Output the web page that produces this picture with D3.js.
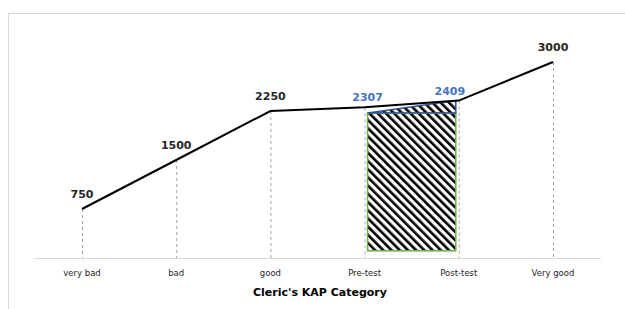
<!DOCTYPE html>
<meta charset="utf-8">
<script src="https://d3js.org/d3.v7.min.js"></script>
<style>
  body { margin: 0; background: #fff; }
</style>
<div id="chart"></div>
<script>

// categories and values
const categories = ["very bad", "bad", "good", "Pre-test", "Post-test", "Very good"];
const values = [750, 1500, 2250, 2307, 2409, 3000];
const blueLabels = ["Pre-test", "Post-test"];

// hatched improvement area
const areaFrom = "Pre-test", areaTo = "Post-test";
const boxBottom = 110, boxTop = 2220;
const wedgeTop = [2220, 2409];

const W = 625, H = 309;

const svg = d3.select("#chart").append("svg")
    .attr("width", W)
    .attr("height", H);

// outer chart frame
svg.append("rect")
    .attr("x", 8.5).attr("y", 13.5)
    .attr("width", 700).attr("height", 400)
    .attr("fill", "none")
    .attr("stroke", "#d9d9d9");

const x = d3.scalePoint()
    .domain(categories)
    .range([82, 553]);

const y = d3.scaleLinear()
    .domain([0, 3000])
    .range([258, 62]);

// hatch pattern
const defs = svg.append("defs");
defs.append("pattern")
    .attr("id", "hatch")
    .attr("patternUnits", "userSpaceOnUse")
    .attr("width", 5.8).attr("height", 5.8)
    .attr("patternTransform", "rotate(-45)")
  .append("rect")
    .attr("x", 0).attr("y", 0)
    .attr("width", 2.6).attr("height", 5.8)
    .attr("fill", "#000");

// drop lines
svg.append("g")
  .selectAll("line")
  .data(categories)
  .join("line")
    .attr("x1", d => x(d) + 0.5)
    .attr("x2", d => x(d) + 0.5)
    .attr("y1", (d, i) => y(values[i]))
    .attr("y2", y(0))
    .attr("stroke", "#a6a6a6")
    .attr("stroke-dasharray", "3,3");

// x axis line
svg.append("line")
    .attr("x1", 34).attr("x2", 601)
    .attr("y1", y(0) + 0.5).attr("y2", y(0) + 0.5)
    .attr("stroke", "#d9d9d9");

// hatched box
const bx0 = x(areaFrom) + 3, bx1 = x(areaTo) - 3;
svg.append("rect")
    .attr("x", bx0).attr("y", y(boxTop))
    .attr("width", bx1 - bx0)
    .attr("height", y(boxBottom) - y(boxTop))
    .attr("fill", "url(#hatch)")
    .attr("stroke", "#70ad47")
    .attr("stroke-width", 1.5);

// hatched wedge on top
const wedge = [
  [bx0, y(wedgeTop[0])],
  [bx1, y(wedgeTop[1])],
  [bx1, y(boxTop)]
];
svg.append("path")
    .attr("d", "M" + wedge.join("L") + "Z")
    .attr("fill", "url(#hatch)")
    .attr("stroke", "#2f5597")
    .attr("stroke-width", 1.5);

// main line
svg.append("path")
    .datum(values)
    .attr("fill", "none")
    .attr("stroke", "#000")
    .attr("stroke-width", 2)
    .attr("d", d3.line()
      .x((d, i) => x(categories[i]))
      .y(d => y(d)));

// value labels
svg.append("g")
  .selectAll("text")
  .data(values)
  .join("text")
    .attr("x", (d, i) => x(categories[i]) + (categories[i] === "Post-test" ? -9 : categories[i] === "Pre-test" ? 3 : 0))
    .attr("y", (d, i) => y(d) - (blueLabels.includes(categories[i]) ? 6 : 11))
    .attr("text-anchor", "middle")
    .style("font-family", "'DejaVu Sans', Verdana, sans-serif")
    .style("font-size", "11px")
    .style("font-weight", "bold")
    .attr("fill", (d, i) => blueLabels.includes(categories[i]) ? "#4472c4" : "#262626")
    .text(d => d);

// category labels
svg.append("g")
  .selectAll("text")
  .data(categories)
  .join("text")
    .attr("x", d => x(d))
    .attr("y", 276)
    .attr("text-anchor", "middle")
    .style("font-family", "'DejaVu Sans', Verdana, sans-serif")
    .style("font-size", "8.5px")
    .attr("fill", "#262626")
    .text(d => d);

// axis title
svg.append("text")
    .attr("x", 320)
    .attr("y", 296)
    .attr("text-anchor", "middle")
    .style("font-family", "'DejaVu Sans', Verdana, sans-serif")
    .style("font-size", "11px")
    .style("font-weight", "bold")
    .attr("fill", "#000")
    .text("Cleric's KAP Category");

</script>
